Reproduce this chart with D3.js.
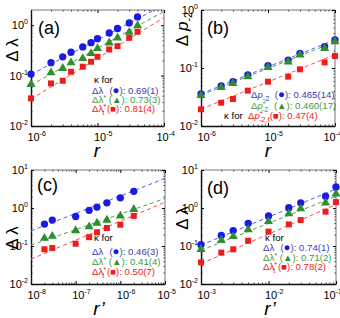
<!DOCTYPE html>
<html>
<head>
<meta charset="utf-8">
<script src="https://cdn.jsdelivr.net/npm/d3@7"></script>
<style>
  body { margin: 0; background: #fff; }
  svg { display: block; }
  text { font-family: "Liberation Sans", Arial, sans-serif; white-space: pre; }
</style>
</head>
<body>
<div id="chart"></div>
<script>
// ---------- Data ----------
// panel (a): Δλ vs r
const rA = [1e-6, 2e-6, 3e-6, 4e-6, 6e-6, 8e-6, 1e-5, 1.5e-5, 2e-5, 3e-5, 4e-5];
const aCircle = [0.107, 0.18, 0.236, 0.29, 0.37, 0.45, 0.54, 0.70, 0.86, 1.11, 1.46];
const aTriangle = [0.067, 0.114, 0.139, 0.18, 0.219, 0.275, 0.345, 0.447, 0.56, 0.726, 0.98];
const aSquare = [0.0353, 0.07, 0.079, 0.119, 0.15, 0.188, 0.236, 0.33, 0.384, 0.56, 0.74];
const kappaA = [0.69, 0.73, 0.81];
const fitStartA = [0.105, 0.065, 0.034];
const kappaTextA = ["0.69(1)", "0.73(3)", "0.81(4)"];

// panel (b): Δp-2 vs r
const rB = [1e-6, 2e-6, 3e-6, 5e-6, 1e-5, 2e-5, 3e-5, 7e-5, 1e-4];
const bCircle = [0.0356, 0.049, 0.058, 0.0757, 0.11, 0.137, 0.179, 0.233, 0.304];
const bTriangle = [0.0336, 0.0464, 0.0544, 0.0707, 0.1025, 0.128, 0.169, 0.218, 0.286];
const bSquare = [0.0194, 0.0252, 0.0292, 0.0407, 0.058, 0.071, 0.0949, 0.125, 0.161];
const kappaB = [0.465, 0.460, 0.47];
const fitStartB = [0.036, 0.034, 0.0195];
const kappaTextB = ["0.465(14)", "0.460(17)", "0.47(4)"];

// panel (c): Δλ vs r'
const rC = [2e-8, 3e-8, 1e-7, 2e-7, 3e-7, 5e-7, 1e-6, 2e-6];
const cCircle = [0.378, 0.48, 0.597, 0.87, 1.06, 1.37, 1.85, 2.75];
const cTriangle = [0.161, 0.181, 0.254, 0.323, 0.40, 0.48, 0.62, 0.925];
const cSquare = [0.082, 0.0888, 0.115, 0.171, 0.23, 0.298, 0.363, 0.62];
const kappaC = [0.46, 0.41, 0.50];
const fitStartC = [0.25, 0.105, 0.045];
const kappaTextC = ["0.46(3)", "0.41(4)", "0.50(7)"];

// panel (d): Δλ vs r'
const rD = [1e-3, 2e-3, 3e-3, 5e-3, 1e-2, 2e-2, 3e-2, 7e-2, 1e-1];
const dCircle = [0.108, 0.189, 0.254, 0.394, 0.62, 1.02, 1.37, 2.04, 3.57];
const dTriangle = [0.082, 0.14, 0.178, 0.27, 0.443, 0.71, 0.96, 1.37, 2.35];
const dSquare = [0.037, 0.067, 0.082, 0.137, 0.239, 0.37, 0.48, 0.80, 1.43];
const kappaD = [0.74, 0.71, 0.78];
const fitStartD = [0.105, 0.077, 0.034];
const kappaTextD = ["0.74(1)", "0.71(2)", "0.78(2)"];

// ---------- Styles ----------
const markColor = ["#1a1ae6", "#2f8f2f", "#ee1c1c"];
const lineColor = ["#5a5aff", "#4aa84a", "#ff4a4a"];
const textColor = ["#3c3cb4", "#3f9a3f", "#f02020"];
const glyphs = ["●", "▲", "■"];

const svg = d3.select("#chart").append("svg")
    .attr("width", 340).attr("height", 318);

function decades(dom) {
    const out = [];
    for (let e = Math.round(Math.log10(dom[0])); e <= Math.log10(dom[1]) + 1e-9; e++) out.push(Math.pow(10, e));
    return out;
}
function minors(dom) {
    const out = [];
    for (let e = Math.floor(Math.log10(dom[0])); e < Math.log10(dom[1]); e++)
        for (let k = 2; k <= 9; k++) {
            const v = k * Math.pow(10, e);
            if (v > dom[0] && v < dom[1]) out.push(v);
        }
    return out;
}
function expLabel(sel) {
    sel.selectAll(".tick text").each(function (d) {
        const t = d3.select(this);
        t.text(null);
        t.append("tspan").text("10");
        t.append("tspan").attr("font-size", 7).attr("dy", -5).text(Math.round(Math.log10(d)));
    });
}

function drawPanel(p) {
    const x = d3.scaleLog().domain(p.xDom).range([p.x0, p.x1]);
    const y = d3.scaleLog().domain(p.yDom).range([p.y1, p.y0]);
    const g = svg.append("g");

    // box (top / right)
    g.append("path")
        .attr("d", `M${p.x0},${p.y0}H${p.x1}V${p.y1}`)
        .attr("fill", "none").attr("stroke", "#777").attr("stroke-width", 1);

    // minor ticks
    const xMin = minors(p.xDom), yMin = minors(p.yDom);
    [[d3.axisBottom(x), p.y1, xMin, "x"], [d3.axisTop(x), p.y0, xMin, "x"],
     [d3.axisLeft(y), p.x0, yMin, "y"], [d3.axisRight(y), p.x1, yMin, "y"]].forEach(([ax, pos, vals, dir]) => {
        g.append("g")
            .attr("transform", dir === "x" ? `translate(0,${pos})` : `translate(${pos},0)`)
            .call(ax.tickValues(vals).tickSize(-1.5).tickFormat(""))
            .call(s => s.select(".domain").remove())
            .selectAll("line").attr("stroke", "#444");
    });

    // major ticks top/right
    g.append("g").attr("transform", `translate(0,${p.y0})`)
        .call(d3.axisTop(x).tickValues(decades(p.xDom)).tickSize(-3).tickFormat(""))
        .call(s => s.select(".domain").remove());
    g.append("g").attr("transform", `translate(${p.x1},0)`)
        .call(d3.axisRight(y).tickValues(decades(p.yDom)).tickSize(-3).tickFormat(""))
        .call(s => s.select(".domain").remove());

    // bottom axis
    const xTicks = decades(p.xDom);
    const xa = g.append("g").attr("transform", `translate(0,${p.y1})`)
        .call(d3.axisBottom(x).tickValues(xTicks).tickSizeInner(-3).tickSizeOuter(0).tickPadding(7))
        .call(expLabel);
    xa.selectAll(".tick text").attr("font-size", 11).attr("font-family", null)
        .attr("text-anchor", "start")
        .attr("x", (d, i) => i === xTicks.length - 1 ? p.lastDx : -4);
    xa.select(".domain").attr("stroke", "#111").attr("stroke-width", 1.4);

    // left axis
    const ya = g.append("g").attr("transform", `translate(${p.x0},0)`)
        .call(d3.axisLeft(y).tickValues(decades(p.yDom)).tickSizeInner(-3).tickSizeOuter(0).tickPadding(3))
        .call(expLabel);
    ya.selectAll(".tick text").attr("font-size", 11).attr("font-family", null);
    ya.select(".domain").attr("stroke", "#111").attr("stroke-width", 1.4);

    // fit lines
    const clipId = "clip-" + p.id;
    svg.append("clipPath").attr("id", clipId).append("rect")
        .attr("x", p.x0).attr("y", p.y0).attr("width", p.x1 - p.x0).attr("height", p.y1 - p.y0);
    p.kappa.forEach((k, i) => {
        const f = r => p.fitStart[i] * Math.pow(r / p.xDom[0], k);
        g.append("line")
            .attr("clip-path", `url(#${clipId})`)
            .attr("x1", x(p.xDom[0])).attr("y1", y(f(p.xDom[0])))
            .attr("x2", x(p.xDom[1])).attr("y2", y(f(p.xDom[1])))
            .attr("stroke", lineColor[i]).attr("stroke-width", 1)
            .attr("stroke-dasharray", "4,3");
    });

    // markers
    const shapes = [d3.symbolCircle, d3.symbolTriangle, d3.symbolSquare];
    const sizes = [42, 36, 36];
    p.series.forEach((vals, i) => {
        g.append("g").selectAll("path")
            .data(vals.map((v, j) => [p.r[j], v]))
            .join("path")
            .attr("transform", d => `translate(${x(d[0])},${y(d[1])})`)
            .attr("d", d3.symbol(shapes[i], sizes[i]))
            .attr("fill", markColor[i]);
    });

    // panel tag
    svg.append("text").attr("x", p.tag[0]).attr("y", p.tag[1])
        .attr("font-size", 18).text(p.tagText);
}

function legendLine(x, y, color, size, parts) {
    const t = svg.append("text").attr("x", x).attr("y", y)
        .attr("font-size", size).attr("fill", color);
    parts.forEach(pt => {
        const s = t.append("tspan").text(pt.t);
        if (pt.fill) s.attr("fill", pt.fill);
        if (pt.dx) s.attr("dx", pt.dx);
        if (pt.dy) s.attr("dy", pt.dy);
        if (pt.size) s.attr("font-size", pt.size);
        if (pt.italic) s.attr("font-style", "italic");
    });
}

function lambdaLegend(x, base, kTexts) {
    const fs = 9.6;
    svg.append("text").attr("x", x + 2).attr("y", base[0]).attr("font-size", fs).text("κ for");
    legendLine(x, base[1], textColor[0], fs, [
        { t: "Δλ" }, { t: " (", dx: 3.5 }, { t: glyphs[0], fill: markColor[0], size: 11.5 }, { t: "): " + kTexts[0] }]);
    legendLine(x, base[2], textColor[1], fs, [
        { t: "Δλ" }, { t: "*", dy: -3, size: 7.5 }, { t: " (", dy: 3 },
        { t: glyphs[1], fill: markColor[1] }, { t: "): " + kTexts[1] }]);
    legendLine(x, base[3], textColor[2], fs, [
        { t: "Δλ" }, { t: "*", dy: -3, size: 7.5 }, { t: "t", dx: -3.8, dy: 5.5, size: 7.5 },
        { t: " (", dy: -2.5 }, { t: glyphs[2], fill: markColor[2] }, { t: "): " + kTexts[2] }]);
}

// ---------- Panels ----------
drawPanel({ id: "a", x0: 31, x1: 164, y0: 10, y1: 126, xDom: [1e-6, 1e-4], yDom: [0.01, 2],
    r: rA, series: [aCircle, aTriangle, aSquare], kappa: kappaA, fitStart: fitStartA,
    tag: [38, 34], tagText: "(a)", lastDx: -8 });
drawPanel({ id: "b", x0: 201, x1: 335, y0: 10, y1: 126, xDom: [1e-6, 1e-4], yDom: [0.01, 1],
    r: rB, series: [bCircle, bTriangle, bSquare], kappa: kappaB, fitStart: fitStartB,
    tag: [207, 34], tagText: "(b)", lastDx: -12 });
drawPanel({ id: "c", x0: 31, x1: 165, y0: 170, y1: 284, xDom: [1e-8, 1e-5], yDom: [0.01, 10],
    r: rC, series: [cCircle, cTriangle, cSquare], kappa: kappaC, fitStart: fitStartC,
    tag: [37, 191], tagText: "(c)", lastDx: -8 });
drawPanel({ id: "d", x0: 201, x1: 336, y0: 170, y1: 284, xDom: [1e-3, 1e-1], yDom: [0.01, 10],
    r: rD, series: [dCircle, dTriangle, dSquare], kappa: kappaD, fitStart: fitStartD,
    tag: [207, 194], tagText: "(d)", lastDx: -13 });

// ---------- Legends ----------
lambdaLegend(92, [83, 94, 103, 112], kappaTextA);
lambdaLegend(92, [241, 255, 265, 275], kappaTextC);
lambdaLegend(263, [241, 251, 261, 270], kappaTextD);

const bFs = 9.6;
legendLine(251, 98, textColor[0], bFs, [
    { t: "Δ" }, { t: "p", italic: true }, { t: "-2", dy: 2.5, size: 7.5 }, { t: "  (", dy: -2.5 },
    { t: glyphs[0], fill: markColor[0], size: 11.5 }, { t: "): " + kappaTextB[0] }]);
legendLine(251, 109, textColor[1], bFs, [
    { t: "Δ" }, { t: "p", italic: true }, { t: "*", dy: -3, size: 7.5 }, { t: "-2", dx: -3.8, dy: 5.5, size: 7.5 },
    { t: "  (", dy: -2.5 }, { t: glyphs[1], fill: markColor[1] }, { t: "): " + kappaTextB[1] }]);
svg.append("text").attr("x", 224).attr("y", 119).attr("font-size", bFs).text("κ for");
legendLine(248, 119, textColor[2], bFs, [
    { t: "Δ" }, { t: "p", italic: true }, { t: "*", dy: -3, size: 7.5 }, { t: "-2,t", dx: -3.8, dy: 5.5, size: 7.5 },
    { t: "(", dy: -2.5 }, { t: glyphs[2], fill: markColor[2] }, { t: "): " + kappaTextB[2] }]);

// ---------- Axis titles ----------
function yTitle(x, y, parts) {
    const t = svg.append("text").attr("transform", `translate(${x},${y}) rotate(-90)`)
        .attr("text-anchor", "middle").attr("font-size", 17);
    parts.forEach(pt => {
        const s = t.append("tspan").text(pt.t);
        if (pt.dy) s.attr("dy", pt.dy);
        if (pt.size) s.attr("font-size", pt.size);
        if (pt.italic) s.attr("font-style", "italic");
    });
}
yTitle(18, 50, [{ t: "Δ λ" }]);
yTitle(188, 29, [{ t: "Δ " }, { t: "p", italic: true }, { t: "-2", dy: 4, size: 11 }]);
yTitle(18, 238, [{ t: "Δ λ" }]);
yTitle(188, 218, [{ t: "Δ λ" }]);

function xTitle(x, y, txt) {
    svg.append("text").attr("x", x).attr("y", y).attr("text-anchor", "middle")
        .attr("font-size", 19).attr("font-style", "italic").text(txt);
}
xTitle(97, 157, "r");
xTitle(268, 157, "r");
xTitle(99, 315, "r’");
xTitle(270, 315, "r’");
</script>
</body>
</html>
